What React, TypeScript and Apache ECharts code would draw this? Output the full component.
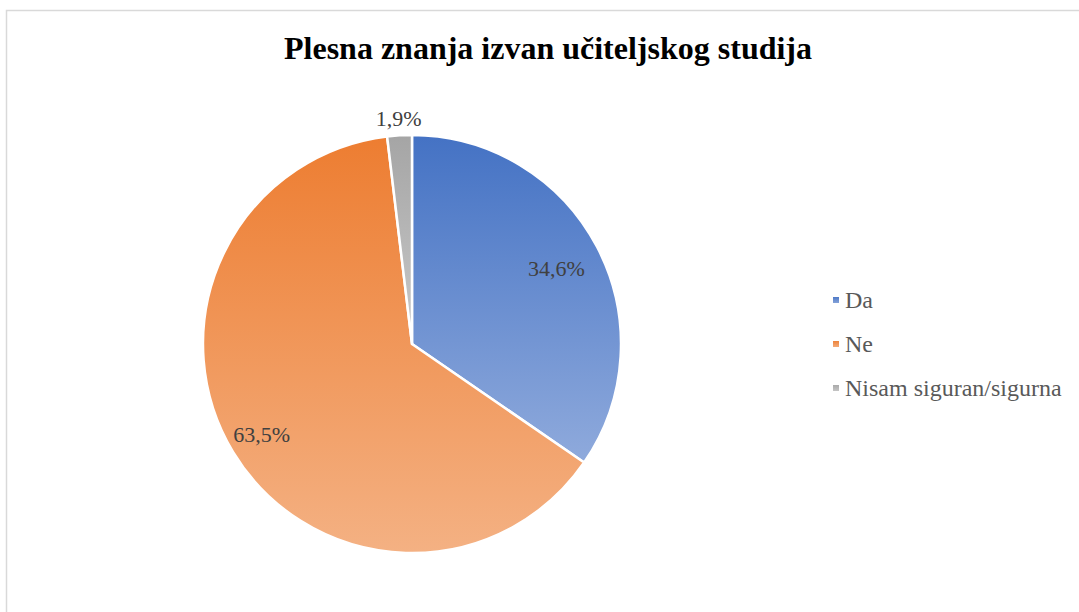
import React, { useEffect, useRef } from "react";
import * as echarts from "echarts";

const titleText = "Plesna znanja izvan učiteljskog studija";
const categories = ["Da", "Ne", "Nisam siguran/sigurna"];
const values = [34.6, 63.5, 1.9];
const topColors = ["#4472C4", "#ED7D31", "#A5A5A5"];
const bottomColors = ["#8FAADC", "#F4B183", "#C9C9C9"];

const CENTER = [412, 344];
const RADIUS = 209;
const LABEL_RATIO = [0.78, 0.84, 1.08];

export default function App() {
  const ref = useRef<HTMLDivElement>(null);
  useEffect(() => {
    document.body.style.margin = "0";
    const chart = echarts.init(ref.current!, null, { renderer: "svg" });
    const total = values.reduce((a, b) => a + b, 0);
    const mids: number[] = [];
    let acc = 0;
    values.forEach((v) => {
      mids.push(((acc + v / 2) / total) * Math.PI * 2);
      acc += v;
    });
    const font = "Liberation Serif";
    chart.setOption({
      animation: false,
      backgroundColor: "#ffffff",
      textStyle: { fontFamily: font },
      title: {
        text: titleText,
        left: 543,
        top: 27,
        textAlign: "center",
        textStyle: { fontFamily: font, fontSize: 32, fontWeight: "bold", color: "#000000" },
      },
      graphic: [
        {
          type: "rect",
          shape: { x: 6.5, y: 10.5, width: 1200, height: 800 },
          style: { fill: "none", stroke: "#D9D9D9", lineWidth: 1.5 },
          silent: true,
          z: -10,
        },
      ],
      legend: {
        orient: "vertical",
        left: 826,
        top: 283,
        itemWidth: 8,
        itemHeight: 8,
        itemGap: 20,
        icon: "rect",
        textStyle: { fontFamily: font, fontSize: 24, color: "#595959" },
        data: categories,
      },
      series: [
        {
          type: "pie",
          center: CENTER,
          radius: RADIUS,
          startAngle: 90,
          clockwise: true,
          avoidLabelOverlap: false,
          itemStyle: { borderColor: "#ffffff", borderWidth: 2.5 },
          label: {
            show: true,
            position: "inside",
            formatter: (p: any) => p.value.toFixed(1).replace(".", ",") + "%",
            fontFamily: font,
            fontSize: 22,
            color: "#404040",
          },
          labelLine: { show: false },
          labelLayout: (p: any) => {
            const a = mids[p.dataIndex];
            const r = RADIUS * LABEL_RATIO[p.dataIndex];
            return {
              x: CENTER[0] + r * Math.sin(a),
              y: CENTER[1] - r * Math.cos(a),
              align: "center",
              verticalAlign: "middle",
            };
          },
          data: categories.map((name, i) => ({
            name,
            value: values[i],
            itemStyle: {
              color: new echarts.graphic.LinearGradient(0, 0, 0, 1, [
                { offset: 0, color: topColors[i] },
                { offset: 1, color: bottomColors[i] },
              ]),
            },
          })),
        },
      ],
    });
    return () => chart.dispose();
  }, []);
  return <div ref={ref} style={{ width: 1079, height: 612 }} />;
}
